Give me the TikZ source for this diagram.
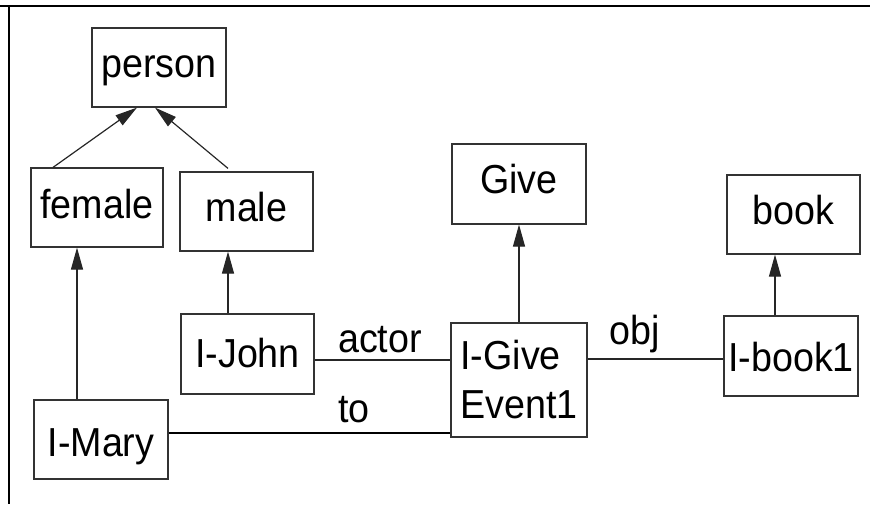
\documentclass[tikz,border=0pt]{standalone}
\usepackage{fontspec}
\setmainfont{Liberation Sans}[FakeStretch=0.93]
\usetikzlibrary{arrows.meta}

\begin{document}
\begin{tikzpicture}[x=1pt,y=-1pt,
  boxbase/.style={draw=black!80, line width=1.2pt, rectangle, inner sep=0pt,
    font=\fontsize{40.5}{49}\selectfont},
  concept/.style={boxbase, text height=27.5pt, text depth=8.5pt},
  lbl/.style={inner sep=0pt, font=\fontsize{40.5}{49}\selectfont},
  link/.style={draw=black!85, line width=1.2pt},
  isa/.style={link, -{Triangle[length=22pt,width=12pt]}}
]
\useasboundingbox (0,0) rectangle (870,504);

% frame edges
\draw[line width=2pt] (0,6) -- (870,6);
\draw[line width=2pt] (9,6) -- (9,504);

% type hierarchy
\node[concept, minimum width=134pt, minimum height=79pt] (person) at (159,67.5) {person};
\node[concept, minimum width=132pt, minimum height=79pt, text height=29.5pt] (female) at (97,207.5) {female};
\node[concept, minimum width=133pt, minimum height=79pt] (male) at (246.5,211.5) {male};
\node[concept, minimum width=134pt, minimum height=80pt] (give) at (519,184) {Give};
\node[concept, minimum width=133pt, minimum height=79pt] (book) at (793.5,214.5) {book};

% instances
\node[concept, minimum width=133pt, minimum height=80pt, text height=34.5pt] (john) at (247.5,354) {I-John};
\node[boxbase, minimum width=136pt, minimum height=114pt, align=left] (igive) at (519,380) {I-Give\\Event1};
\node[concept, minimum width=134pt, minimum height=79pt, text height=41.5pt] (mary) at (101,439.5) {I-Mary};
\node[concept, minimum width=134pt, minimum height=80pt, text height=38.5pt] (book1) at (791,356) {I-book1};

% is-a arrows
\coordinate (fp0) at ([xshift=-44pt]female.north);
\coordinate (fp1) at ([xshift=-22pt]person.south);
\draw[isa] (fp0) -- (fp1);
\coordinate (mp0) at ([xshift=-18.5pt,yshift=3pt]male.north);
\coordinate (mp1) at ([xshift=-4pt]person.south);
\draw[isa] (mp0) -- (mp1);

\coordinate (mf) at ([xshift=-24pt]mary.north);
\draw[isa] (mf) -- (mf |- female.south);
\coordinate (jm) at ([xshift=-19.5pt]john.north);
\draw[isa] (jm) -- (jm |- male.south);
\draw[isa] (igive.north) -- (give.south);
\coordinate (bb) at ([xshift=-16pt]book1.north);
\draw[isa] (bb) -- (bb |- book.south);

% role links
\coordinate (ja) at ([yshift=-6pt]john.east);
\draw[link] (ja) -- (ja -| igive.west);
\coordinate (go) at ([yshift=21pt]igive.east);
\draw[link] (go) -- (go -| book1.west);
\coordinate (mt) at ([yshift=6.5pt]mary.east);
\draw[link, draw=black] (mt) -- (mt -| igive.west);

% role names
\node[lbl, anchor=base] (actorlbl) at (380,352) {actor};
\node[lbl, anchor=base] (tolbl) at (354,422) {to};
\node[lbl, anchor=base] (objlbl) at (635,344) {obj};
\end{tikzpicture}
\end{document}
